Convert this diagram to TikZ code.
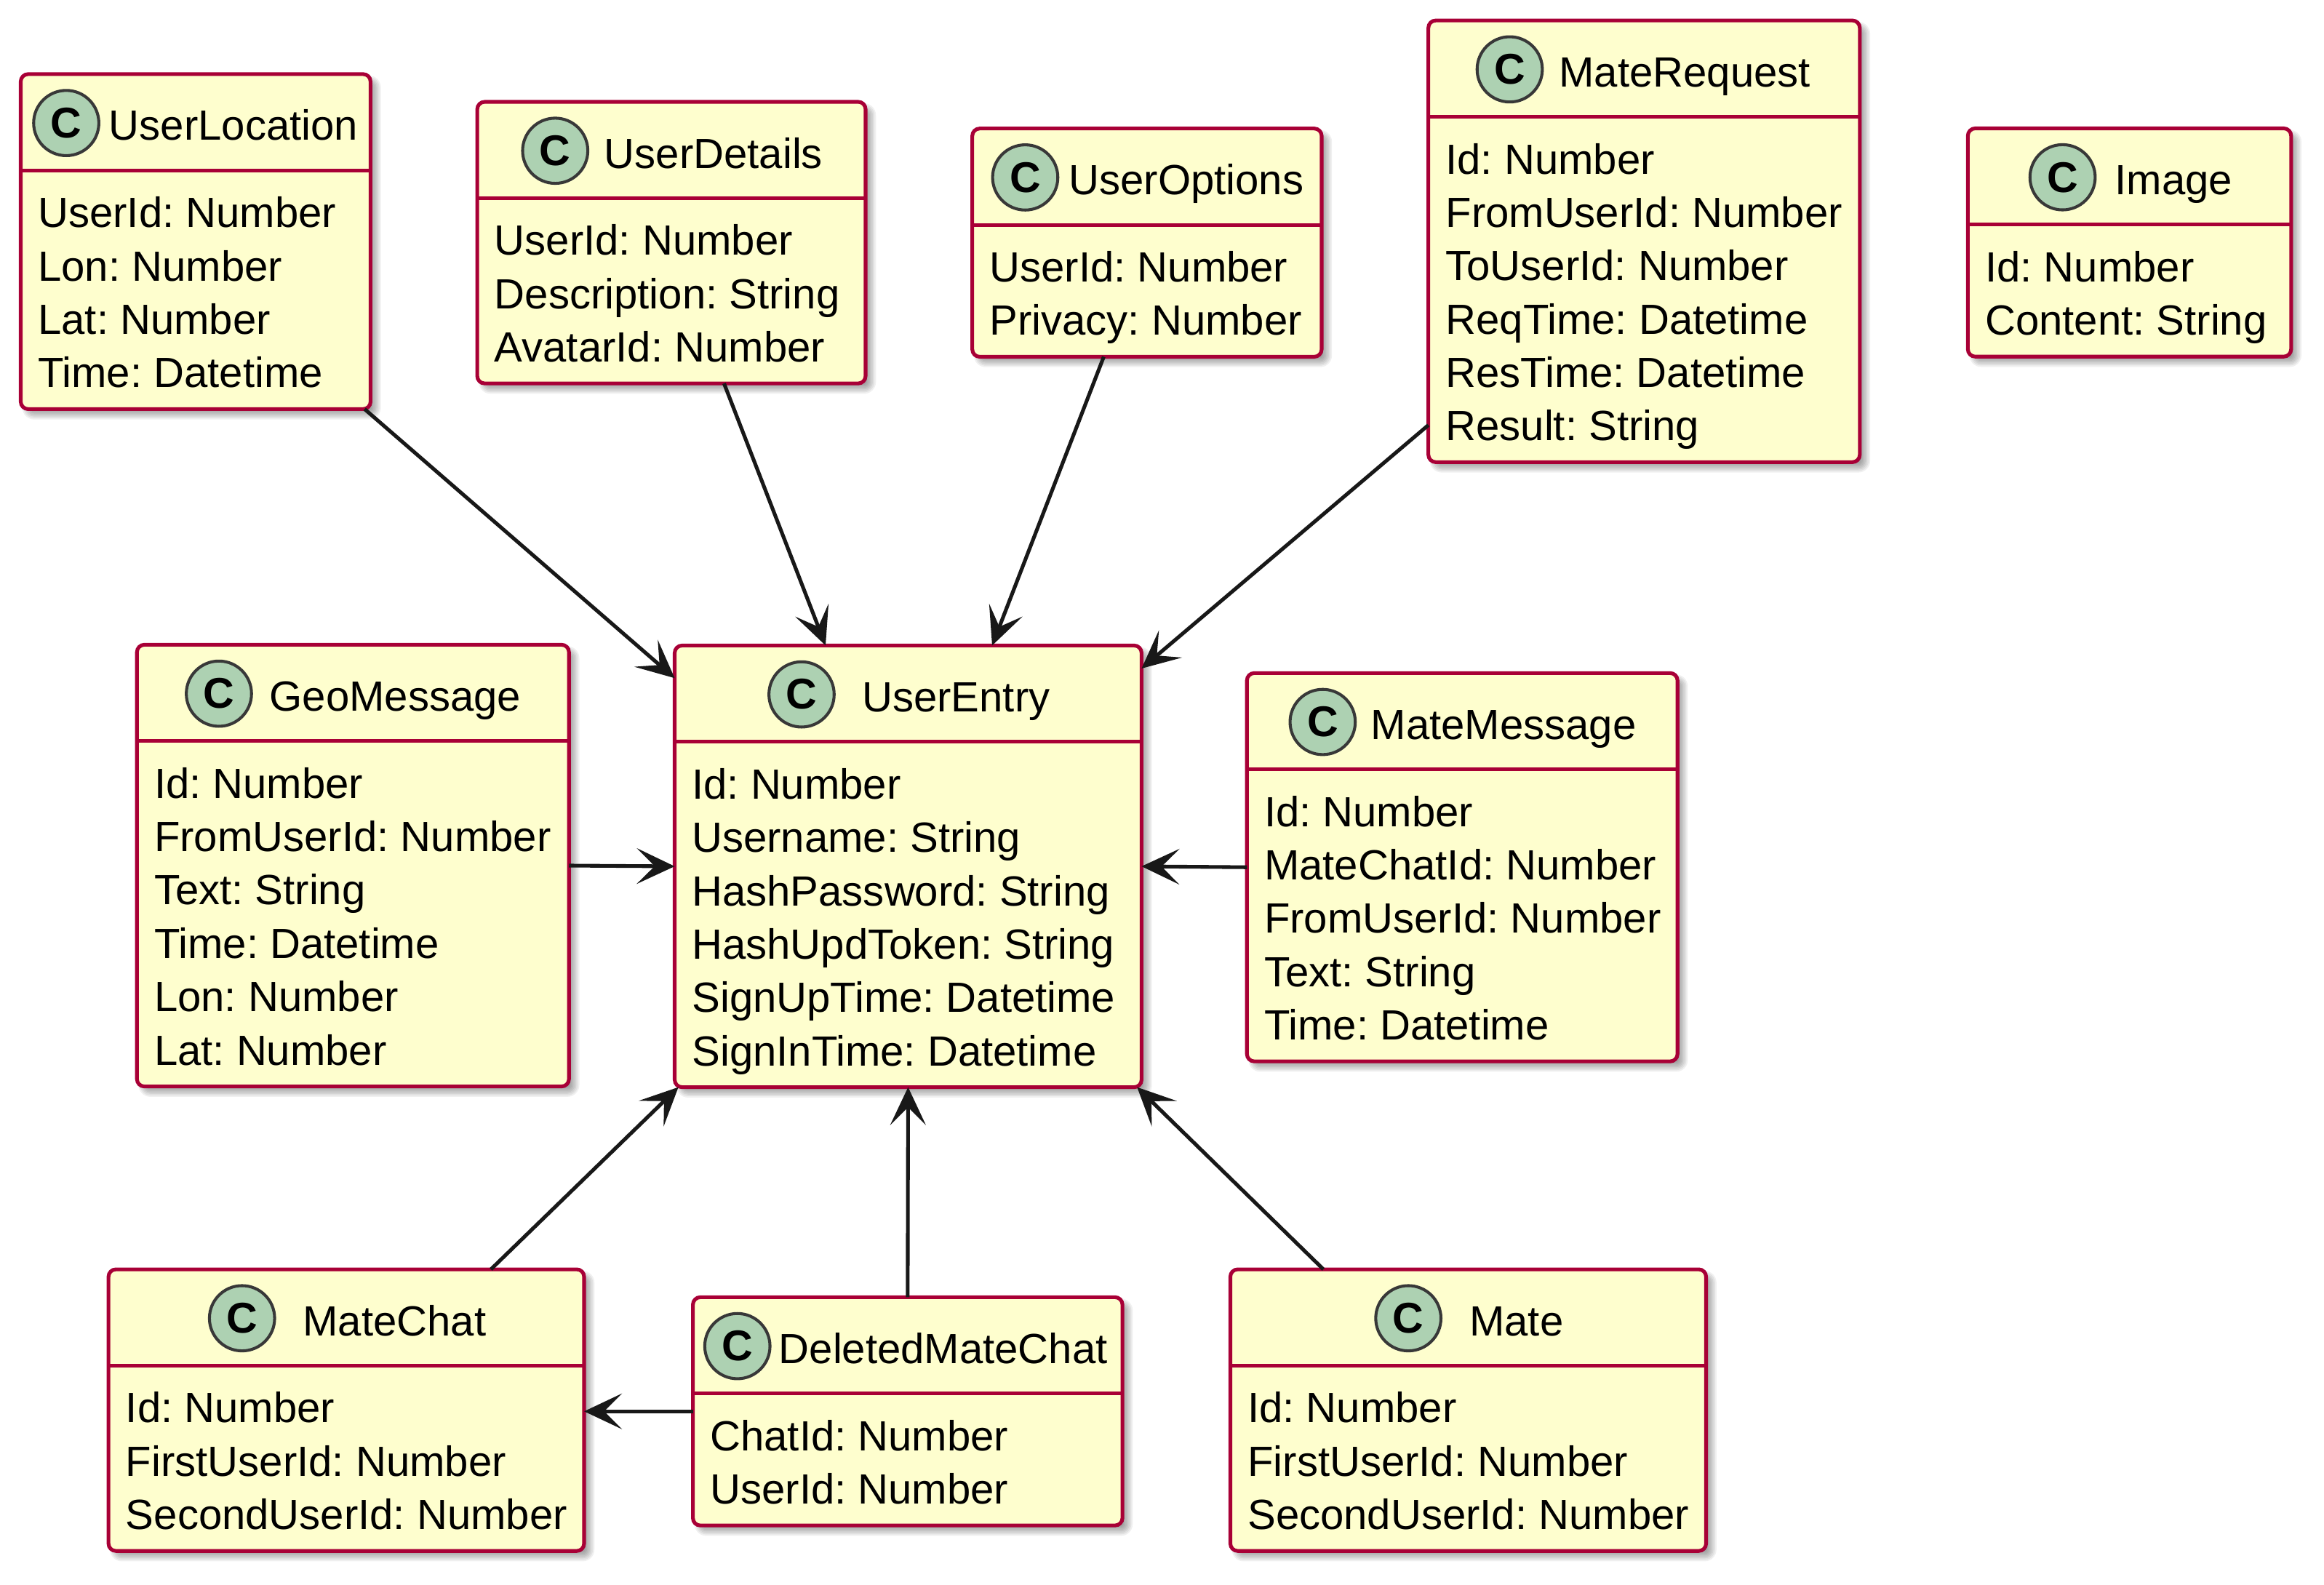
\documentclass[tikz,border=0pt]{standalone}
\usepackage{fontspec}
\setmainfont{Liberation Sans}
\usepackage{graphicx}
\usetikzlibrary{arrows.meta,calc,backgrounds}

\definecolor{umlfill}{HTML}{FEFECE}
\definecolor{umlborder}{HTML}{A80036}
\definecolor{iconfill}{HTML}{ADD1B2}
\definecolor{iconline}{HTML}{383838}
\definecolor{linkcol}{HTML}{181818}

\frenchspacing

\tikzset{
  classbox/.style={draw=umlborder, fill=umlfill, line width=2.5pt, rounded corners=5pt,
                   inner sep=0pt, outer sep=0pt, anchor=north west},
  sepline/.style={draw=umlborder, line width=2.5pt},
  classicon/.style={circle, fill=iconfill, draw=iconline, line width=2pt, minimum size=44pt,
                    inner sep=0pt, font=\bfseries\fontsize{29}{29}\selectfont},
  classtitle/.style={anchor=base west, inner sep=0pt, font=\fontsize{28.5}{36}\selectfont},
  classattr/.style={anchor=base west, inner sep=0pt, font=\fontsize{28.5}{36}\selectfont},
  link/.style={draw=linkcol, line width=2.5pt,
               -{Stealth[length=25.5pt, width=24pt, inset=12pt]}},
  shadowlayer/.style={fill=black, opacity=0.06},
}

% #1 name, #2 left, #3 top, #4 right, #5 number of attributes,
% #6 icon centre x, #7 title x, #8 title, #9 attribute list
\newcommand\umlclass[9]{%
  \pgfmathsetmacro\boxw{#4-#2}%
  \pgfmathsetmacro\boxh{82+36*#5}%
  \node[classbox, minimum width=\boxw pt, minimum height=\boxh pt] (#1) at (#2,#3) {};
  \begin{pgfonlayer}{background}
    \foreach \ee in {-3,...,3}{%
      \pgfmathsetmacro\rr{max(5+\ee,0.5)}%
      \fill[shadowlayer, rounded corners=\rr pt]
        ($(#1.north west)+(4-\ee,4-\ee)$) rectangle ($(#1.south east)+(4+\ee,4+\ee)$);
    }
  \end{pgfonlayer}
  \draw[sepline] ($(#1.north west)+(0,65)$) -- ($(#1.north east)+(0,65)$);
  \node[classicon] (#1-icon) at (#6,#3+33) {C};
  \node[classtitle] (#1-title) at (#7,#3+44.7) {#8};
  \foreach \attr [count=\k] in {#9}{%
    \node[classattr] (#1-a\k) at (#2+11.5,#3+103.5+36*\k-36) {\attr};
  }
}

\begin{document}
\begin{tikzpicture}[x=1pt, y=-1pt]
\begin{pgfonlayer}{background}
  \fill[white] (0,0) rectangle (1568,1069);
\end{pgfonlayer}
\useasboundingbox (0,0) rectangle (1568,1069);

% top row
\umlclass{ul}{14}{50}{250}{4}{44.7}{73.4}{UserLocation}
  {UserId: Number, Lon: Number, Lat: Number, Time: Datetime}
\umlclass{ud}{322}{68.7}{584}{3}{374.6}{407.6}{UserDetails}
  {UserId: Number, Description: String, AvatarId: Number}
\umlclass{uo}{656}{86.7}{891.7}{2}{691.7}{721}{UserOptions}
  {UserId: Number, Privacy: Number}
\umlclass{mr}{963.7}{13.8}{1254.8}{6}{1018.6}{1051.8}{MateRequest}
  {Id: Number, FromUserId: Number, ToUserId: Number, ReqTime: Datetime, ResTime: Datetime, Result: String}
\umlclass{img}{1327.7}{86.6}{1545.8}{2}{1391.6}{1426.8}{Image}
  {Id: Number, Content: String}

% middle row
\umlclass{gm}{92.4}{435}{383.9}{6}{147.7}{181.7}{GeoMessage}
  {Id: Number, FromUserId: Number, Text: String, Time: Datetime, Lon: Number, Lat: Number}
\umlclass{ue}{455.2}{435.5}{770.2}{6}{540.8}{581.5}{UserEntry}
  {Id: Number, Username: String, HashPassword: String, HashUpdToken: String, SignUpTime: Datetime, SignInTime: Datetime}
\umlclass{mm}{841.3}{454.1}{1131.8}{5}{892.4}{924.8}{MateMessage}
  {Id: Number, MateChatId: Number, FromUserId: Number, Text: String, Time: Datetime}

% bottom row
\umlclass{mc}{73.2}{856.4}{394.1}{3}{163.3}{204.2}{MateChat}
  {Id: Number, FirstUserId: Number, SecondUserId: Number}
\umlclass{dmc}{467.5}{875.2}{757.3}{2}{497.5}{525.3}{DeletedMateChat}
  {ChatId: Number, UserId: Number}
\umlclass{mt}{830.1}{856.4}{1151.1}{3}{950.2}{991.3}{Mate}
  {Id: Number, FirstUserId: Number, SecondUserId: Number}

% associations
\draw[link] ($(ul.south east)+(-4,0)$) -- ($(ue.north west)+(0,22)$);
\draw[link] ($(ud.south west)+(166.5,0)$) -- ($(ue.north west)+(101.8,0)$);
\draw[link] ($(uo.south west)+(88.7,0)$) -- ($(ue.north west)+(214.2,0)$);
\draw[link] ($(mr.south west)+(0,-25)$) -- ($(ue.north east)+(0,15.5)$);
\draw[link] (gm.east) -- (ue.west);
\draw[link] (mm.west) -- (ue.east);
\draw[link] ($(mc.north west)+(258,0)$) -- ($(ue.south west)+(2.5,0)$);
\draw[link] (dmc.north) -- (ue.south);
\draw[link] ($(mt.north west)+(62.8,0)$) -- ($(ue.south east)+(-3,0)$);
\draw[link] (dmc.west) -- (dmc.west -| mc.east);
\end{tikzpicture}
\end{document}
